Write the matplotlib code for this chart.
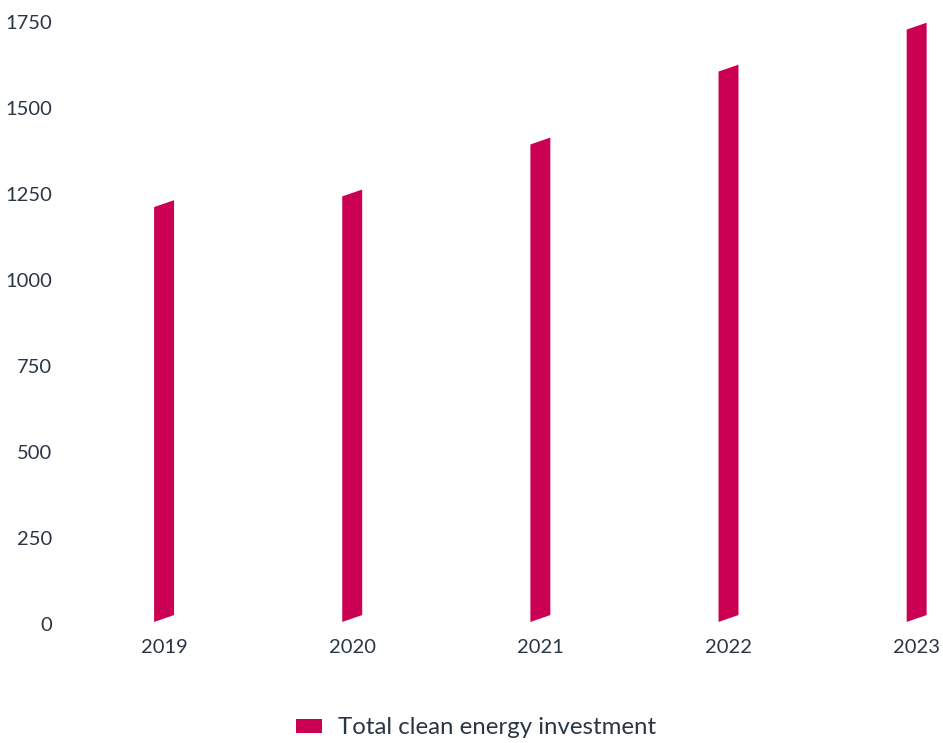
import matplotlib
matplotlib.use("Agg")
import matplotlib.pyplot as plt
from matplotlib.patches import Polygon, Patch

years = ["2019", "2020", "2021", "2022", "2023"]
investment = [1222, 1253, 1404, 1616, 1738]
yticks = [0, 250, 500, 750, 1000, 1250, 1500, 1750]
series_name = "Total clean energy investment"

bar_color = "#cc0052"
text_color = "#2b3645"
plt.rcParams['font.family'] = ['Lato', 'DejaVu Sans']

fig = plt.figure(figsize=(9.43, 7.43), dpi=100)
ax = fig.add_axes([70 / 943, 119 / 743, 1 - 70 / 943, (624 - 22) / 743])

half_w = 0.053
skew = 20
base = 6
for i, v in enumerate(investment):
    pts = [(i - half_w, base), (i + half_w, base + skew),
           (i + half_w, v + skew / 2), (i - half_w, v - skew / 2)]
    ax.add_patch(Polygon(pts, closed=True, facecolor=bar_color, edgecolor="none"))

ax.set_xlim(-0.5, 4.14)
ax.set_ylim(0, 1750)
ax.set_xticks(range(len(years)))
ax.set_xticklabels(years)
ax.set_yticks(yticks)
ax.set_yticklabels([str(t) for t in yticks])
ax.tick_params(axis="both", length=0, labelsize=14.5, colors=text_color)
ax.tick_params(axis="y", pad=13)
ax.tick_params(axis="x", pad=11)
for s in ax.spines.values():
    s.set_visible(False)

handle = Patch(facecolor=bar_color, edgecolor="none")
leg = fig.legend([handle], [series_name], loc="center", bbox_to_anchor=(476 / 943, 1 - 728 / 743),
                 frameon=False, fontsize=17.3, handlelength=1.1, handleheight=0.5,
                 handletextpad=0.65)
for t in leg.get_texts():
    t.set_color(text_color)

fig.savefig("out.png", dpi=100)
